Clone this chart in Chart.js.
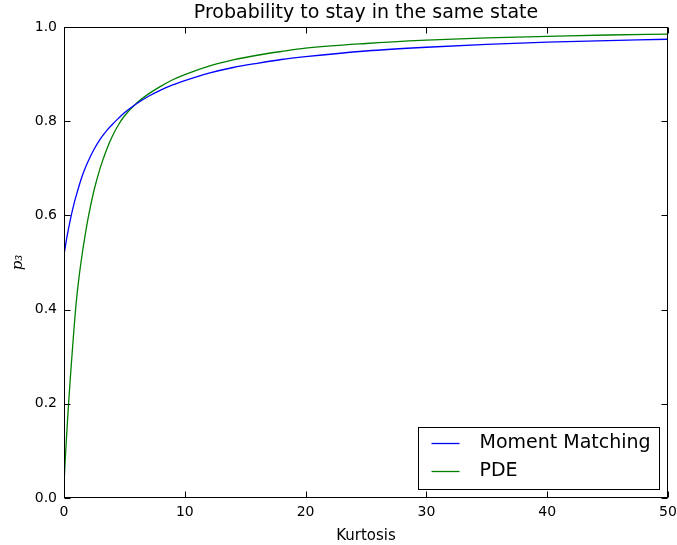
<!DOCTYPE html>
<html><head><meta charset="utf-8">
<script src="https://cdn.jsdelivr.net/npm/chart.js@4/dist/chart.umd.min.js"></script>
<style>html,body{margin:0;padding:0;background:#fff}#wrap{width:677px;height:545px}</style>
</head><body><div id="wrap"><canvas id="c" width="677" height="545"></canvas></div>
<script>
const chartTitle = 'Probability to stay in the same state';
const xLabel = 'Kurtosis';
const yLabel = 'p\u2083';
const seriesNames = ['Moment Matching', 'PDE'];
const kurtosis = [0, 0.05, 0.1, 0.2, 0.3, 0.4, 0.5, 0.6, 0.8, 1, 1.25, 1.5, 1.75, 2, 2.5, 3, 3.5, 4, 4.5, 5, 6, 7, 8, 9, 10, 12, 14, 16, 18, 20, 25, 30, 35, 40, 45, 50];
const momentMatching = [0.516, 0.524, 0.532, 0.548, 0.562, 0.575, 0.588, 0.600, 0.622, 0.641, 0.663, 0.683, 0.700, 0.715, 0.741, 0.762, 0.779, 0.793, 0.806, 0.818, 0.837, 0.853, 0.866, 0.877, 0.886, 0.902, 0.914, 0.923, 0.931, 0.937, 0.949, 0.957, 0.963, 0.968, 0.971, 0.974];
const pde = [0.03, 0.055, 0.08, 0.125, 0.168, 0.208, 0.246, 0.282, 0.35, 0.412, 0.47, 0.517, 0.558, 0.595, 0.655, 0.701, 0.738, 0.768, 0.792, 0.811, 0.838, 0.858, 0.874, 0.888, 0.899, 0.917, 0.930, 0.940, 0.948, 0.955, 0.965, 0.972, 0.977, 0.980, 0.983, 0.985];
const xTicks = [0, 10, 20, 30, 40, 50];
const yTicks = [0, 0.2, 0.4, 0.6, 0.8, 1.0];
const colors = ['#0000ff', '#008000'];

const FONT = 'DejaVu Sans';

const toPoints = (ys) => kurtosis.map((k, i) => ({x: k, y: ys[i]}));

const frameTicks = {
  id: 'frameTicks',
  afterDraw(chart) {
    const {ctx, chartArea: a, scales: {x, y}} = chart;
    ctx.save();
    ctx.strokeStyle = '#000';
    ctx.lineWidth = 1;
    const L = Math.round(a.left) + 0.5, R = Math.round(a.right) - 0.5;
    const T = Math.round(a.top) + 0.5, B = Math.round(a.bottom) - 0.5;
    ctx.strokeRect(L, T, R - L, B - T);
    const len = 6;
    ctx.beginPath();
    xTicks.forEach(v => {
      const px = Math.round(x.getPixelForValue(v)) + 0.5;
      ctx.moveTo(px, B); ctx.lineTo(px, B - len);
      ctx.moveTo(px, T); ctx.lineTo(px, T + len);
    });
    yTicks.forEach(v => {
      const py = Math.round(y.getPixelForValue(v)) + 0.5;
      ctx.moveTo(L, py); ctx.lineTo(L + len, py);
      ctx.moveTo(R, py); ctx.lineTo(R - len, py);
    });
    ctx.stroke();

    // legend box (lower right, inside plot)
    const bw = 241, bh = 62;
    const bx = Math.round(a.right - 9 - bw) + 0.5, by = Math.round(a.bottom - 9 - bh) + 0.5;
    ctx.fillStyle = '#fff';
    ctx.fillRect(bx, by, bw, bh);
    ctx.strokeRect(bx, by, bw, bh);
    ctx.font = '19px "' + FONT + '"';
    ctx.textBaseline = 'middle';
    ctx.textAlign = 'left';
    chart.data.datasets.forEach((ds, i) => {
      const cy = by + 16 + i * 28;
      ctx.strokeStyle = ds.borderColor;
      ctx.lineWidth = 1.3;
      ctx.beginPath();
      ctx.moveTo(bx + 13, cy); ctx.lineTo(bx + 41, cy);
      ctx.stroke();
      ctx.fillStyle = '#000';
      ctx.fillText(ds.label, bx + 61, cy);
    });
    ctx.restore();
  }
};

new Chart(document.getElementById('c'), {
  type: 'line',
  data: {
    datasets: [
      {label: seriesNames[0], data: toPoints(momentMatching), borderColor: colors[0], backgroundColor: colors[0], borderWidth: 1.3, pointRadius: 0, cubicInterpolationMode: 'monotone', fill: false},
      {label: seriesNames[1], data: toPoints(pde), borderColor: colors[1], backgroundColor: colors[1], borderWidth: 1.3, pointRadius: 0, cubicInterpolationMode: 'monotone', fill: false}
    ]
  },
  options: {
    responsive: false,
    animation: false,
    events: [],
    layout: {padding: {left: 0, right: 0, top: 0, bottom: 0}},
    plugins: {
      legend: {display: false},
      tooltip: {enabled: false},
      title: {
        display: true, text: chartTitle, fullSize: false, color: '#000',
        font: {family: FONT, size: 19, weight: 'normal', lineHeight: 1.2},
        padding: {top: 2, bottom: 2.2}
      }
    },
    scales: {
      x: {
        type: 'linear', min: 0, max: 50,
        afterBuildTicks: (s) => { s.ticks = xTicks.map(v => ({value: v})); },
        afterFit: (s) => { s.height = 47; s.paddingRight = 9; s.paddingLeft = 0; },
        grid: {display: false, drawTicks: false},
        border: {display: false},
        ticks: {color: '#000', font: {family: FONT, size: 14}, padding: 6, maxRotation: 0, callback: (v) => String(v)},
        title: {display: true, text: xLabel, color: '#000', font: {family: FONT, size: 15}, padding: {top: 0, bottom: 0}}
      },
      y: {
        type: 'linear', min: 0, max: 1,
        afterBuildTicks: (s) => { s.ticks = yTicks.map(v => ({value: v})); },
        afterFit: (s) => { s.width = 64; },
        grid: {display: false, drawTicks: false},
        border: {display: false},
        ticks: {color: '#000', font: {family: FONT, size: 14}, padding: 7, callback: (v) => Number(v).toFixed(1)},
        title: {display: true, text: yLabel, color: '#000', font: {family: 'DejaVu Serif', size: 15, style: 'italic'}, padding: {top: 9, bottom: 0}}
      }
    }
  },
  plugins: [frameTicks]
});
</script>
</body></html>
